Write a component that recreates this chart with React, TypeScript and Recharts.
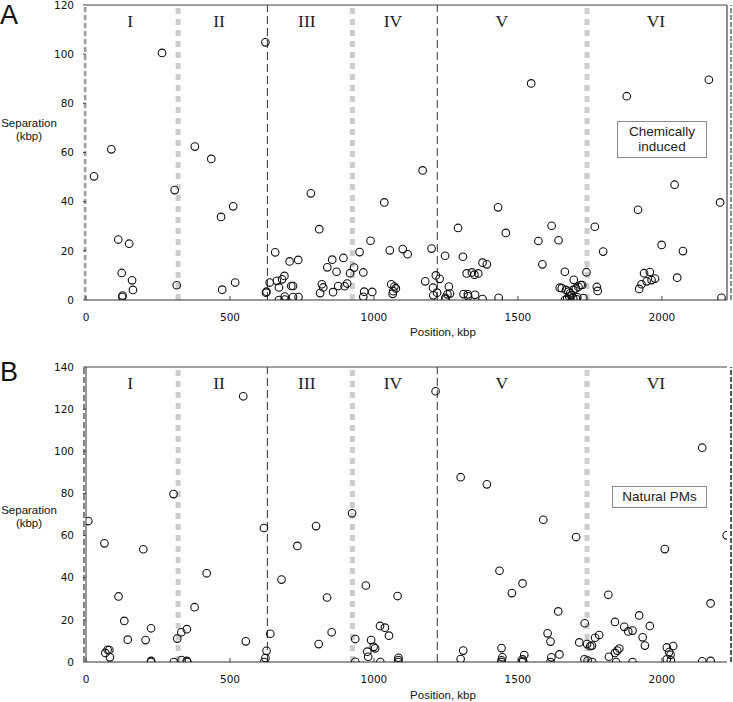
import React from 'react';
import { ScatterChart, Scatter, XAxis, YAxis, ReferenceLine } from 'recharts';

// ---------- data ----------
const positionTicks = [0, 500, 1000, 1500, 2000];
const topSeparationTicks = [0, 20, 40, 60, 80, 100, 120];
const bottomSeparationTicks = [0, 20, 40, 60, 80, 100, 120, 140];
const regionNames = ['I', 'II', 'III', 'IV', 'V', 'VI'];
const regionLabelPositions = [153, 462, 767, 1066, 1444, 1979];
const armBoundaries = [630, 1220]; // black dashed
const regionBoundaries = [320, 925, 1740]; // grey dotted
const chromosomeEnd = 2240;

// [position kbp, separation kbp]
const chemicallyInduced: [number, number][] = [
  [28, 50.3], [88, 61.3], [264, 100.5], [308, 44.7], [112, 24.6], [150, 22.9], [124, 11], [160, 8],
  [163, 4.1], [127, 1.8], [126, 1.2], [315, 6], [378, 62.4], [435, 57.4], [469, 33.8], [511, 38.1],
  [473, 4.2], [518, 7.1], [623, 104.8], [625, 3.0], [627, 3.4], [638, 7.1], [657, 19.4], [663, 7.8],
  [670, 5.1], [670, 0], [681, 8.4], [689, 9.8], [690, 1.4], [690, 0.2], [707, 15.7], [713, 5.7],
  [719, 5.7], [719, 1.2], [737, 16.3], [738, 1.2], [781, 43.4], [810, 28.8], [813, 2.8], [819, 6.4],
  [824, 5.1], [838, 13.3], [855, 16.4], [858, 3.2], [870, 11.5], [876, 5.7], [894, 17.1], [898, 5.6],
  [907, 6.7], [917, 10.9], [931, 13.2], [950, 19.5], [963, 11.2], [966, 3.4], [963, 1.3], [988, 24.1],
  [994, 3.3], [1036, 39.7], [1055, 20.2], [1100, 20.7], [1117, 18.6], [1060, 6.4], [1071, 5.5],
  [1076, 4.7], [1065, 2.5], [1067, 3.6], [1169, 52.7], [1200, 20.9], [1178, 7.6], [1215, 10],
  [1228, 8.6], [1205, 5.0], [1206, 1.9], [1219, 3.0], [1249, 0.4], [1248, 0.9], [1255, 2.3],
  [1260, 5.5], [1264, 2.6], [1247, 18], [1292, 29.3], [1309, 17.6], [1322, 10.8], [1340, 11.2],
  [1349, 10.3], [1362, 10.8], [1311, 2.4], [1326, 2.3], [1327, 1.5], [1351, 2.1], [1377, 15.2],
  [1392, 14.5], [1377, 0.4], [1431, 37.7], [1433, 0.9], [1458, 27.3], [1546, 88.1], [1571, 24],
  [1585, 14.5], [1617, 30.2], [1641, 24.3], [1663, 11.5], [1645, 5.0], [1652, 4.8], [1694, 8.2],
  [1667, 4.1], [1675, 3.4], [1681, 2.7], [1692, 4.1], [1701, 4.7], [1710, 5.4], [1718, 6.1],
  [1723, 6.1], [1663, 0], [1671, 0.7], [1678, 1.4], [1686, 2.0], [1692, 0.7], [1704, 0.3],
  [1706, 1.1], [1727, 0.8], [1738, 11.3], [1767, 29.8], [1774, 5.3], [1777, 3.7], [1796, 19.7],
  [1878, 82.9], [2163, 89.6], [2044, 46.9], [2202, 39.7], [1917, 36.7], [1999, 22.4], [2073, 19.9],
  [2053, 9.1], [1921, 4.5], [1929, 6.4], [1938, 10.9], [1958, 11.4], [1947, 7.6], [1964, 8.1],
  [1976, 8.7], [2207, 0.9],
];

const naturalPMs: [number, number][] = [
  [8, 66.9], [64, 56.3], [199, 53.5], [113, 31.1], [133, 19.5], [145, 10.6], [207, 10.4], [226, 16],
  [75, 5.8], [81, 5.7], [67, 4.3], [83, 2.2], [226, 0.5], [226, 0], [304, 79.7], [305, 0], [317, 11.1],
  [331, 14.1], [350, 15.6], [332, 0.9], [350, 0.5], [352, 0], [377, 26], [419, 42.1], [546, 126.1],
  [555, 9.8], [618, 63.6], [627, 5.3], [623, 1.9], [619, 0], [640, 13.4], [679, 39.1], [734, 55.1],
  [799, 64.5], [808, 8.5], [837, 30.6], [853, 14.1], [924, 70.6], [935, 10.9], [935, 0.1], [972, 36.3],
  [1082, 31.3], [1214, 128.5], [1021, 17.1], [1038, 16.3], [1052, 12.5], [990, 10.4], [999, 7.2],
  [1004, 6.5], [977, 4.9], [980, 2.5], [1022, 0], [1085, 2.0], [1085, 0.9], [1085, 0], [1301, 87.7],
  [1392, 84.3], [1301, 1.4], [1310, 5.4], [1436, 43.3], [1516, 37.3], [1479, 32.7], [1443, 6.6],
  [1446, 2.2], [1443, 0.8], [1443, 0], [1522, 3.3], [1516, 1.3], [1518, 0.6], [1515, 0], [1588, 67.5],
  [1640, 24], [1603, 13.6], [1613, 9.7], [1616, 2.2], [1613, 0], [1644, 3.6], [1702, 59.3],
  [1732, 18.4], [1713, 9.3], [1740, 8.5], [1751, 7.5], [1757, 7.8], [1768, 11.5], [1782, 12.8],
  [1731, 1.3], [1742, 0.7], [1758, 0], [1814, 31.9], [1837, 19], [1869, 16.7], [1883, 14.5],
  [1898, 14.9], [1921, 22.1], [1958, 17.1], [1933, 11.7], [1941, 7.8], [1816, 2.5], [1837, 4.3],
  [1845, 5.4], [1852, 6.4], [1841, 0], [1898, 0], [2010, 53.6], [2017, 6.9], [2039, 7.6], [2025, 4.7],
  [2030, 3.4], [2017, 1.3], [2031, 0.8], [2140, 101.7], [2169, 27.8], [2140, 0.3], [2169, 0.5],
  [2225, 60.1],
];

// ---------- styling ----------
const X_MAX = 2226;
const TICK_FONT = { fontFamily: '"DejaVu Sans", Verdana, sans-serif', fontSize: 10.5, fill: '#111' };
const SANS = '"Liberation Sans", Arial, sans-serif';
const SERIF = '"Liberation Serif", "Times New Roman", serif';

const Ring = (p: any) => (
  <circle cx={p.cx} cy={p.cy} r={3.8} fill="none" stroke="#111" strokeWidth={1.1} />
);

const XTick = (p: any) => (
  <g>
    <line x1={p.x} x2={p.x} y1={p.y - 14} y2={p.y - 18} stroke="#444" strokeWidth={1} />
    <text x={p.x} y={p.y} dy="0.71em" textAnchor="middle" style={TICK_FONT as any} fill="#111">
      {p.payload.value}
    </text>
  </g>
);

const regionData = (yTop: number) =>
  regionNames.map((name, i) => ({ x: regionLabelPositions[i], y: yTop, label: name }));

const RegionLabel = (p: any) => (
  <text
    x={p.cx}
    y={p.cy + 22}
    textAnchor="middle"
    fontFamily={SERIF}
    fontSize={17.5}
    fill="#222"
  >
    {p.payload.label}
  </text>
);

type PanelProps = {
  points: [number, number][];
  yMax: number;
  yTicks: number[];
  height: number;
  marginTop: number;
  marginBottom: number;
  variant: 'A' | 'B';
};

function Panel({ points, yMax, yTicks, height, marginTop, marginBottom, variant }: PanelProps) {
  const data = points.map(([x, y]) => ({ x, y }));
  return (
    <ScatterChart
      width={733}
      height={height}
      margin={{ top: marginTop, right: 733 - 727, bottom: marginBottom, left: 0 }}
    >
      <XAxis
        type="number"
        dataKey="x"
        domain={[0, X_MAX]}
        allowDataOverflow
        ticks={positionTicks}
        interval={0}
        height={30}
        tickLine={false}
        tickSize={0}
        tickMargin={14}
        tick={<XTick />}
        axisLine={{ stroke: '#333', strokeWidth: 1.2 }}
      />
      <YAxis
        type="number"
        dataKey="y"
        domain={[0, yMax]}
        allowDataOverflow
        ticks={yTicks}
        interval={0}
        width={86}
        tickSize={3}
        tickMargin={9}
        tick={TICK_FONT}
        tickLine={{ stroke: '#444' }}
        axisLine={variant === 'B' ? { stroke: '#333', strokeWidth: 1 } : false}
      />
      {/* frame */}
      <ReferenceLine y={yMax} stroke="#444" strokeWidth={1.2} />
      {variant === 'A' && <ReferenceLine x={X_MAX} stroke="#444" strokeWidth={1.2} />}
      {/* chromosome ends */}
      {variant === 'A' ? (
        <ReferenceLine x={-3} stroke="#999" strokeWidth={2.5} strokeDasharray="5 3" ifOverflow="visible" />
      ) : (
        <ReferenceLine x={-7} stroke="#222" strokeWidth={1.1} strokeDasharray="6 3" ifOverflow="visible" />
      )}
      <ReferenceLine
        x={chromosomeEnd}
        stroke={variant === 'A' ? '#666' : '#222'}
        strokeWidth={1.5}
        strokeDasharray="5 2"
        ifOverflow="visible"
      />
      {regionBoundaries.map((b) => (
        <ReferenceLine key={'g' + b} x={b} stroke="#cdcdcd" strokeWidth={5} strokeDasharray="6 5" />
      ))}
      {armBoundaries.map((b) => (
        <ReferenceLine key={'d' + b} x={b} stroke="#444" strokeWidth={1.1} strokeDasharray="8 4" />
      ))}
      <Scatter data={data} shape={<Ring />} isAnimationActive={false} />
      <Scatter data={regionData(yMax)} shape={<RegionLabel />} isAnimationActive={false} />
    </ScatterChart>
  );
}

const abs = (s: React.CSSProperties): React.CSSProperties => ({ position: 'absolute', ...s });

export default function App() {
  return (
    <div style={abs({ left: 0, top: 0, width: 733, height: 702, background: '#fff', overflow: 'hidden' })}>
      <div style={abs({ left: 0, top: 0 })}>
        <Panel
          points={chemicallyInduced}
          yMax={120}
          yTicks={topSeparationTicks}
          height={345}
          marginTop={5}
          marginBottom={15}
          variant="A"
        />
      </div>
      <div style={abs({ left: 0, top: 350 })}>
        <Panel
          points={naturalPMs}
          yMax={140}
          yTicks={bottomSeparationTicks}
          height={352}
          marginTop={17}
          marginBottom={10}
          variant="B"
        />
      </div>

      {/* panel letters */}
      <div style={abs({ left: 0, top: 0, fontFamily: SANS, fontSize: 27, color: '#111', lineHeight: 'normal' })}>A</div>
      <div style={abs({ left: 0, top: 357, fontFamily: SANS, fontSize: 27, color: '#111', lineHeight: 'normal' })}>B</div>

      {/* y-axis titles */}
      <div style={abs({ left: 0, top: 117, width: 58, textAlign: 'center', fontFamily: SANS, fontSize: 11.5, lineHeight: '13px', color: '#111' })}>
        Separation<br />(kbp)
      </div>
      <div style={abs({ left: 0, top: 504, width: 58, textAlign: 'center', fontFamily: SANS, fontSize: 11.5, lineHeight: '13px', color: '#111' })}>
        Separation<br />(kbp)
      </div>

      {/* x-axis titles */}
      <div style={abs({ left: 393, top: 325, width: 100, textAlign: 'center', fontFamily: SANS, fontSize: 11.5, lineHeight: '14px', color: '#111' })}>
        Position, kbp
      </div>
      <div style={abs({ left: 393, top: 688, width: 100, textAlign: 'center', fontFamily: SANS, fontSize: 11.5, lineHeight: '14px', color: '#111' })}>
        Position, kbp
      </div>

      {/* legend boxes */}
      <div style={abs({ left: 617, top: 121, width: 88, height: 33, border: '1px solid #8a8a8a', background: '#fff', textAlign: 'center', fontFamily: SANS, fontSize: 13.5, lineHeight: '15px', color: '#222', paddingTop: 2, boxSizing: 'content-box' })}>
        Chemically<br />induced
      </div>
      <div style={abs({ left: 612, top: 486, width: 93, height: 20, border: '1px solid #8a8a8a', background: '#fff', textAlign: 'center', fontFamily: SANS, fontSize: 13.5, lineHeight: '20px', color: '#222' })}>
        Natural PMs
      </div>
    </div>
  );
}
